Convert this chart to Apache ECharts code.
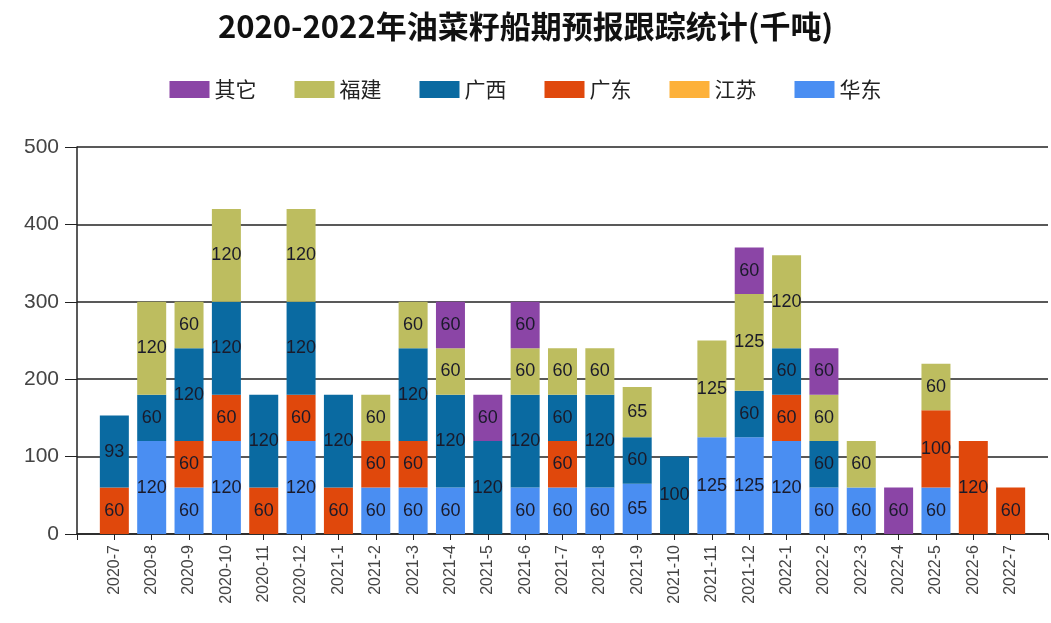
<!DOCTYPE html>
<html>
<head>
<meta charset="utf-8">
<script src="https://cdn.jsdelivr.net/npm/echarts@6/dist/echarts.min.js"></script>
<style>html,body{margin:0;padding:0;background:#fff;}#c{width:1051px;height:623px;}</style>
</head>
<body>
<div id="c"></div>
<script>
const categories = ['2020-7','2020-8','2020-9','2020-10','2020-11','2020-12','2021-1','2021-2','2021-3','2021-4','2021-5','2021-6','2021-7','2021-8','2021-9','2021-10','2021-11','2021-12','2022-1','2022-2','2022-3','2022-4','2022-5','2022-6','2022-7'];
const huadong = [null,120,60,120,null,120,null,60,60,60,null,60,60,60,65,null,125,125,120,60,60,null,60,null,null];
const jiangsu = [null,null,null,null,null,null,null,null,null,null,null,null,null,null,null,null,null,null,null,null,null,null,null,null,null];
const guangdong = [60,null,60,60,60,60,60,60,60,null,null,null,60,null,null,null,null,null,60,null,null,null,100,120,60];
const guangxi = [93,60,120,120,120,120,120,null,120,120,120,120,60,120,60,100,null,60,60,60,null,null,null,null,null];
const fujian = [null,120,60,120,null,120,null,60,60,60,null,60,60,60,65,null,125,125,120,60,60,null,60,null,null];
const qita = [null,null,null,null,null,null,null,null,null,60,60,60,null,null,null,null,null,60,null,60,null,60,null,null,null];
const yTicks = [0,100,200,300,400,500];

const seriesDefs = [
  {name:'华东', data:huadong, color:'#4A8EF2'},
  {name:'江苏', data:jiangsu, color:'#FDB13A'},
  {name:'广东', data:guangdong, color:'#E0480C'},
  {name:'广西', data:guangxi, color:'#0A6AA1'},
  {name:'福建', data:fujian, color:'#BDBD5F'},
  {name:'其它', data:qita, color:'#8B45A6'}
];
const padCats = [''].concat(categories, ['']);
const chart = echarts.init(document.getElementById('c'));
chart.setOption({
  backgroundColor:'#fff',
  animation:false,
  title:{
    text:'2020-2022年油菜籽船期预报跟踪统计(千吨)',
    left:'center', top:6,
    textStyle:{fontSize:31, fontWeight:'bold', color:'#111', fontFamily:'Noto Sans CJK SC'}
  },
  legend:{
    data:['其它','福建','广西','广东','江苏','华东'],
    top:74, left:'center',
    itemWidth:40, itemHeight:17, itemGap:38,
    icon:'rect',
    textStyle:{fontSize:21, color:'#222', fontFamily:'Noto Sans CJK SC'}
  },
  grid:{left:77, right:3, top:147, bottom:89},
  xAxis:{
    type:'category', data:padCats, boundaryGap:false,
    axisLine:{lineStyle:{color:'#222', width:1.5}},
    axisTick:{interval:0, length:6, lineStyle:{color:'#222'}},
    axisLabel:{interval:0, rotate:90, fontSize:16, color:'#444', margin:11, fontFamily:'Liberation Sans'},
    splitLine:{show:false}
  },
  yAxis:{
    type:'value', min:yTicks[0], max:yTicks[yTicks.length-1], interval:100,
    axisLine:{show:true, lineStyle:{color:'#222', width:1.5}},
    axisTick:{show:true, length:12, lineStyle:{color:'#222'}},
    axisLabel:{fontSize:21, color:'#444', margin:18, fontFamily:'Liberation Sans'},
    splitLine:{lineStyle:{color:'#222', width:1.5}}
  },
  series: seriesDefs.map(s => ({
    name:s.name, type:'bar', stack:'total', barWidth:29,
    data:[null].concat(s.data, [null]),
    itemStyle:{color:s.color},
    label:{show:true, position:'inside', fontSize:18, color:'#1a1a2a', fontFamily:'Liberation Sans',
      formatter:p => (p.value == null ? '' : p.value)}
  }))
});
</script>
</body>
</html>
